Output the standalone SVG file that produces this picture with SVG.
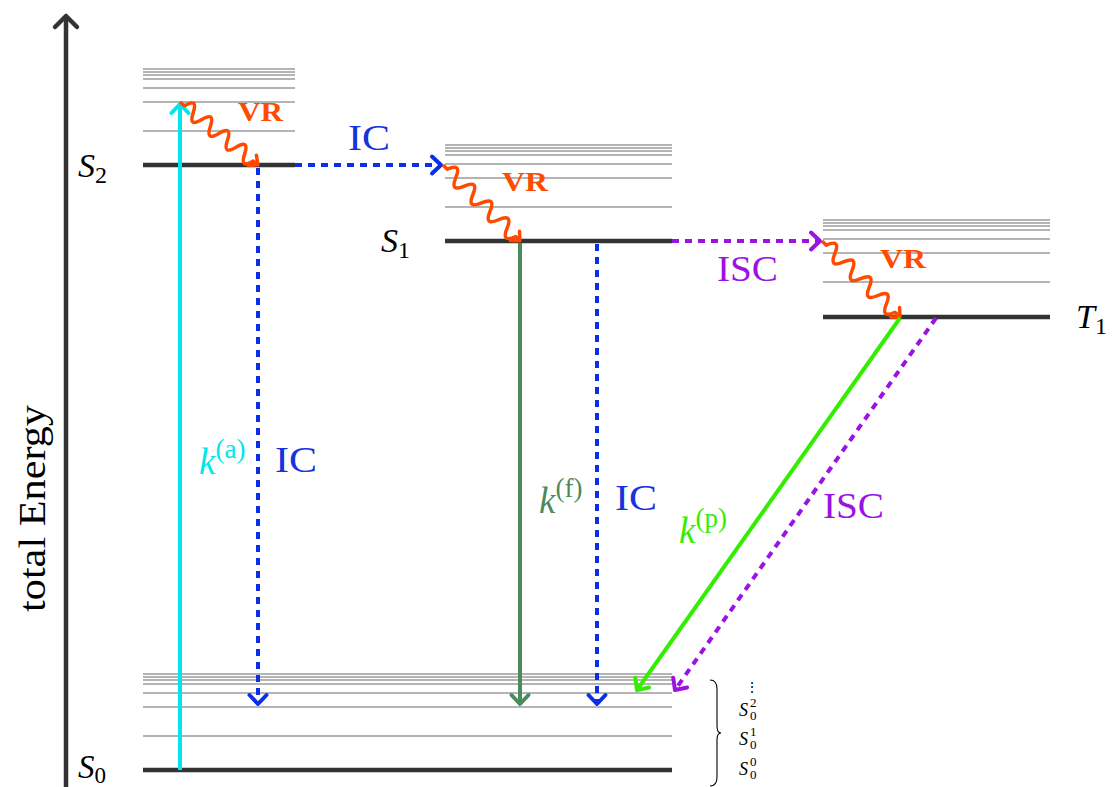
<svg xmlns="http://www.w3.org/2000/svg" width="1114" height="787" viewBox="0 0 1114 787">
<style>
.vib{stroke:#b4b4b4;stroke-width:2;fill:none}
.lev{stroke:#333;stroke-width:4.5;fill:none}
.t{font-family:"Liberation Serif","DejaVu Serif",serif}
.it{font-style:italic}
.vr{font-weight:bold;font-size:27px;fill:#ff4a00}
.blue{fill:#1633dd}
.purple{fill:#9b12e4}
.wave{stroke:#ff4a00;stroke-width:3.5;fill:none;stroke-linejoin:round}
.dashb{stroke:#0b2fe8;stroke-width:4;stroke-dasharray:7 6;fill:none}
.dashp{stroke:#9b12e4;stroke-width:4;stroke-dasharray:7 6;fill:none}
</style>
<defs>
<marker id="mAxis" markerUnits="userSpaceOnUse" viewBox="-20 -20 40 40" markerWidth="40" markerHeight="40" refX="0" refY="0" orient="auto"><path d="M-11,-11 L0,0 L-11,11" fill="none" stroke="#333" stroke-width="4.5" stroke-linecap="round" stroke-linejoin="round"/></marker>
<marker id="mBlue" markerUnits="userSpaceOnUse" viewBox="-20 -20 40 40" markerWidth="40" markerHeight="40" refX="0" refY="0" orient="auto"><path d="M-9,-8.5 L0,0 L-9,8.5" fill="none" stroke="#0b2fe8" stroke-width="4" stroke-linecap="round" stroke-linejoin="round"/></marker>
<marker id="mPurple" markerUnits="userSpaceOnUse" viewBox="-20 -20 40 40" markerWidth="40" markerHeight="40" refX="0" refY="0" orient="auto"><path d="M-9,-8.5 L0,0 L-9,8.5" fill="none" stroke="#9b12e4" stroke-width="4" stroke-linecap="round" stroke-linejoin="round"/></marker>
<marker id="mCyan" markerUnits="userSpaceOnUse" viewBox="-20 -20 40 40" markerWidth="40" markerHeight="40" refX="0" refY="0" orient="auto"><path d="M-9,-8.5 L0,0 L-9,8.5" fill="none" stroke="#00e5ee" stroke-width="4" stroke-linecap="round" stroke-linejoin="round"/></marker>
<marker id="mGreen" markerUnits="userSpaceOnUse" viewBox="-20 -20 40 40" markerWidth="40" markerHeight="40" refX="0" refY="0" orient="auto"><path d="M-9,-8.5 L0,0 L-9,8.5" fill="none" stroke="#4b8b5b" stroke-width="4" stroke-linecap="round" stroke-linejoin="round"/></marker>
<marker id="mLime" markerUnits="userSpaceOnUse" viewBox="-20 -20 40 40" markerWidth="40" markerHeight="40" refX="0" refY="0" orient="auto"><path d="M-9,-8.5 L0,0 L-9,8.5" fill="none" stroke="#33ee00" stroke-width="4" stroke-linecap="round" stroke-linejoin="round"/></marker>
<marker id="mOrange" markerUnits="userSpaceOnUse" viewBox="-20 -20 40 40" markerWidth="40" markerHeight="40" refX="0" refY="0" orient="auto"><path d="M-7,-6.5 L0,0 L-7,6.5" fill="none" stroke="#ff4a00" stroke-width="3.5" stroke-linecap="round" stroke-linejoin="round"/></marker>
</defs>

<g id="axis">
<line x1="66" y1="787" x2="66" y2="16" stroke="#333" stroke-width="4.5" marker-end="url(#mAxis)"/>
<text class="t" x="0" y="0" font-size="37" transform="translate(45,612) rotate(-90)" textLength="207" lengthAdjust="spacingAndGlyphs">total Energy</text>
</g>

<g id="S0">
<path class="vib" d="M143,674H672M143,677H672M143,680H672M143,684H672M143,693H672M143,707H672M143,736H672"/>
<line class="lev" x1="143" y1="770" x2="672" y2="770"/>
<text class="t it" x="78" y="778" font-size="33">S<tspan font-style="normal" font-size="23" dy="5">0</tspan></text>
</g>

<g id="S2">
<path class="vib" d="M143,69H295M143,72H295M143,75H295M143,79H295M143,88H295M143,102H295M143,131H295"/>
<line class="lev" x1="143" y1="165" x2="295" y2="165"/>
<text class="t it" x="78" y="177" font-size="34">S<tspan font-style="normal" font-size="24" dy="6">2</tspan></text>
</g>

<g id="S1">
<path class="vib" d="M445,145H672M445,148H672M445,151H672M445,155H672M445,164H672M445,178H672M445,207H672"/>
<line class="lev" x1="445" y1="241" x2="672" y2="241"/>
<text class="t it" x="381" y="252" font-size="34">S<tspan font-style="normal" font-size="24" dy="6">1</tspan></text>
</g>

<g id="T1">
<path class="vib" d="M823,220H1050M823,223H1050M823,226H1050M823,230H1050M823,239H1050M823,253H1050M823,282H1050"/>
<line class="lev" x1="823" y1="317" x2="1050" y2="317"/>
<text class="t it" x="1076" y="328" font-size="34">T<tspan font-style="normal" font-size="24" dy="6">1</tspan></text>
</g>

<g id="S0-labels">
<path d="M710,680 q7,0 7,9 v37 q0,7 4,7 q-4,0 -4,7 v37 q0,9 -7,9" fill="none" stroke="#000" stroke-width="1.1"/>
<text class="t" x="745" y="692" font-size="14">⋮</text>
<text class="t it" x="739" y="716" font-size="18">S<tspan font-style="normal" font-size="13" x="750" y="707">2</tspan><tspan font-style="normal" font-size="13" x="750" y="720">0</tspan></text>
<text class="t it" x="739" y="745" font-size="18">S<tspan font-style="normal" font-size="13" x="750" y="736">1</tspan><tspan font-style="normal" font-size="13" x="750" y="749">0</tspan></text>
<text class="t it" x="739" y="775" font-size="18">S<tspan font-style="normal" font-size="13" x="750" y="766">0</tspan><tspan font-style="normal" font-size="13" x="750" y="779">0</tspan></text>
</g>

<g id="connectors">
<line x1="180" y1="770" x2="180" y2="104" stroke="#00e5ee" stroke-width="4" marker-end="url(#mCyan)"/>
<path class="wave" transform="translate(180,102) rotate(38.9)" d="M0,0 l6,0 q5.5,-15 11,0 t11,0 t11,0 t11,0 t11,0 t11,0 t11,0 t11,0 l6,0" marker-end="url(#mOrange)"/>
<line class="dashb" x1="295" y1="165" x2="441" y2="165" marker-end="url(#mBlue)"/>
<line class="dashb" x1="258" y1="168" x2="258" y2="704" marker-end="url(#mBlue)"/>
<path class="wave" transform="translate(443,165) rotate(44.6)" d="M0,0 l6,0 q6,-15 12,0 t12,0 t12,0 t12,0 t12,0 t12,0 t12,0 t12,0 l6,0" marker-end="url(#mOrange)"/>
<line x1="520" y1="243" x2="520" y2="704" stroke="#4b8b5b" stroke-width="4" marker-end="url(#mGreen)"/>
<line class="dashb" x1="597" y1="244" x2="597" y2="704" marker-end="url(#mBlue)"/>
<line class="dashp" x1="672" y1="241" x2="820" y2="241" marker-end="url(#mPurple)"/>
<path class="wave" transform="translate(822,241) rotate(44.3)" d="M0,0 l6,0 q6,-15 12,0 t12,0 t12,0 t12,0 t12,0 t12,0 t12,0 t12,0 l7,0" marker-end="url(#mOrange)"/>
<line x1="900" y1="318" x2="637" y2="690" stroke="#33ee00" stroke-width="4" marker-end="url(#mLime)"/>
<line class="dashp" x1="936" y1="318" x2="675" y2="690" marker-end="url(#mPurple)"/>
</g>

<g id="labels">
<text class="t vr" x="238" y="121" textLength="45" lengthAdjust="spacingAndGlyphs">VR</text>
<text class="t vr" x="502" y="191" textLength="46" lengthAdjust="spacingAndGlyphs">VR</text>
<text class="t vr" x="880" y="268" textLength="46" lengthAdjust="spacingAndGlyphs">VR</text>
<text class="t blue" x="348" y="150" font-size="35" textLength="42" lengthAdjust="spacingAndGlyphs">IC</text>
<text class="t purple" x="717" y="281" font-size="35" textLength="61" lengthAdjust="spacingAndGlyphs">ISC</text>
<text class="t it" x="199" y="474" font-size="37" fill="#00e5ee">k<tspan font-style="normal" font-size="27" dy="-16">(a)</tspan></text>
<text class="t blue" x="275" y="472" font-size="35" textLength="42" lengthAdjust="spacingAndGlyphs">IC</text>
<text class="t it" x="539" y="513" font-size="37" fill="#4b8b5b">k<tspan font-style="normal" font-size="27" dy="-16">(f)</tspan></text>
<text class="t blue" x="615" y="510" font-size="35" textLength="42" lengthAdjust="spacingAndGlyphs">IC</text>
<text class="t it" x="679" y="543" font-size="37" fill="#33ee00">k<tspan font-style="normal" font-size="27" dy="-16">(p)</tspan></text>
<text class="t purple" x="823" y="518" font-size="35" textLength="61" lengthAdjust="spacingAndGlyphs">ISC</text>
</g>
</svg>
